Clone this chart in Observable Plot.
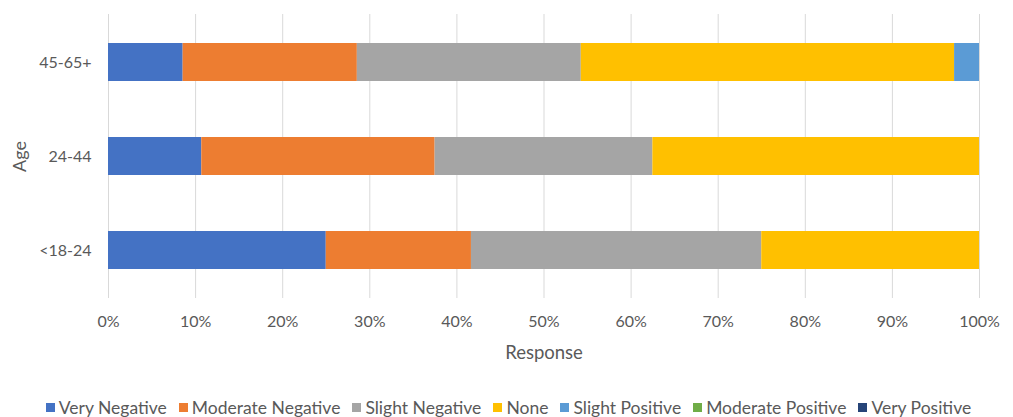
<!DOCTYPE html>
<html>
<head>
<meta charset="utf-8">
<script src="https://cdn.jsdelivr.net/npm/d3@7"></script>
<script src="https://cdn.jsdelivr.net/npm/@observablehq/plot@0.6"></script>
<style>
  html, body { margin: 0; padding: 0; background: #fff; }
  body { width: 1013px; height: 417px; overflow: hidden; font-family: Lato, "Open Sans", sans-serif; }
  #legend { display: flex; justify-content: center; gap: 12px; font-size: 17.5px; line-height: 21px; color: #595959; margin-top: 12px; padding-left: 4px; }
  #legend .item { display: flex; align-items: center; gap: 4px; }
  #legend .sw { width: 9px; height: 9px; display: inline-block; }
</style>
</head>
<body>
<div id="chart"></div>
<div id="legend"></div>
<script>
// Age groups, top to bottom
const ages = ["45-65+", "24-44", "<18-24"];
// Response categories in stacking order
const responses = ["Very Negative", "Moderate Negative", "Slight Negative", "None", "Slight Positive", "Moderate Positive", "Very Positive"];
const colors = ["#4472C4", "#ED7D31", "#A5A5A5", "#FFC000", "#5B9BD5", "#70AD47", "#264478"];
// Share of responses (%) per age group, in the order of `responses`
const share45_65 = [8.57, 20.0, 25.71, 42.86, 2.86, 0, 0];
const share24_44 = [10.71, 26.79, 25.0, 37.5, 0, 0, 0];
const shareUnder24 = [25.0, 16.67, 33.33, 25.0, 0, 0, 0];
const xTicks = [0, 10, 20, 30, 40, 50, 60, 70, 80, 90, 100];

const shares = { "45-65+": share45_65, "24-44": share24_44, "<18-24": shareUnder24 };
const rows = ages.flatMap(age => responses.map((r, i) => ({ age, response: r, value: shares[age][i] })))
  .filter(d => d.value > 0);

const font = "Lato, 'Open Sans', sans-serif";
const ink = "#595959";

const chart = Plot.plot({
  width: 1013,
  height: 385,
  marginLeft: 108,
  marginRight: 34,
  marginTop: 14,
  marginBottom: 87,
  style: { fontFamily: font, fontSize: "16px", color: ink, background: "#fff" },
  x: { domain: [0, 100], ticks: xTicks, tickFormat: d => d + "%", label: null },
  y: { domain: ages, paddingInner: 0.6, paddingOuter: 0.3, label: null },
  color: { domain: responses, range: colors },
  marks: [
    Plot.gridX(xTicks, { stroke: "#d9d9d9", strokeOpacity: 1, strokeWidth: 1 }),
    Plot.barX(rows, Plot.stackX({ x: "value", y: "age", fill: "response", order: responses })),
    Plot.axisX({ ticks: xTicks, tickFormat: d => d + "%", tickSize: 0, tickPadding: 17, fill: ink, fontSize: 16, label: null }),
    Plot.axisY({ tickSize: 0, tickPadding: 17, fill: ink, fontSize: 16, label: null }),
    Plot.text(["Response"], { frameAnchor: "bottom", lineAnchor: "middle", textAnchor: "middle", dy: 55, fill: ink, fontSize: 18.5 }),
    Plot.text(["Age"], { frameAnchor: "left", lineAnchor: "middle", textAnchor: "middle", dx: -88, rotate: -90, fill: ink, fontSize: 18 })
  ]
});
document.getElementById("chart").append(chart);

const legend = document.getElementById("legend");
responses.forEach((r, i) => {
  const item = document.createElement("span");
  item.className = "item";
  const sw = document.createElement("span");
  sw.className = "sw";
  sw.style.background = colors[i];
  const label = document.createElement("span");
  label.textContent = r;
  item.append(sw, label);
  legend.append(item);
});
</script>
</body>
</html>
